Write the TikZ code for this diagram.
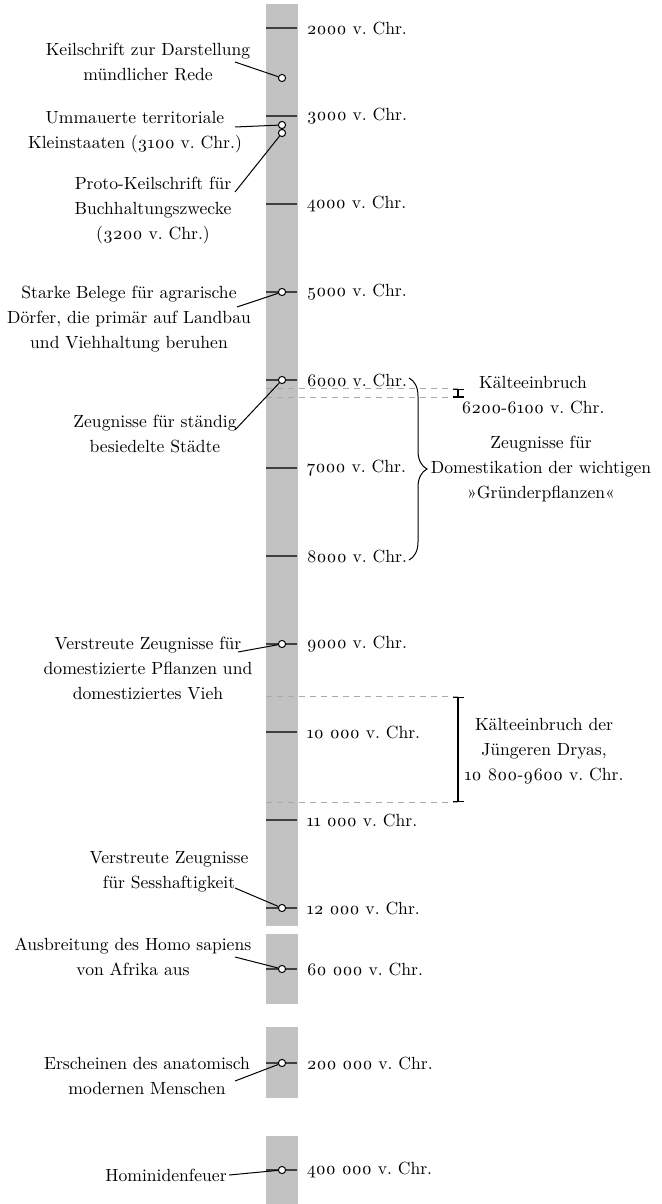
\documentclass[tikz,border=0pt]{standalone}
\usepackage{fontspec}
\setmainfont{lmroman10-regular.otf}[Numbers=OldStyle]
\usetikzlibrary{arrows.meta}
\usetikzlibrary{positioning}
\usetikzlibrary{decorations.pathreplacing}
\definecolor{bargray}{RGB}{194,194,194}
\definecolor{dashgray}{RGB}{170,170,170}
\tikzstyle{bar_fill} = [
    fill=bargray, 
    draw=none
]
\tikzstyle{tick_line} = [
    draw=black!75, 
    line width=0.8pt
]
\tikzstyle{year_label} = [
    anchor=west, 
    inner sep=0pt, 
    xshift=4.5pt % gap between tick and year
]
\tikzstyle{event_dot} = [
    circle, 
    draw=black, 
    fill=white, 
    line width=0.5pt, 
    inner sep=0pt, 
    minimum size=3.6pt
]
\tikzstyle{event_text} = [
    align=center, 
    inner sep=0pt
]
\tikzstyle{leader} = [
    draw=black, 
    line width=0.5pt
]
\tikzstyle{cold_line} = [
    draw=dashgray, 
    line width=0.5pt, 
    dash pattern=on 3pt off 2.5pt
]
\tikzstyle{span_bar} = [
    draw=black, 
    line width=0.6pt, 
    arrows={Bar[width=5.5pt]-Bar[width=5.5pt]}
]
\tikzstyle{brace_line} = [
    draw=black, 
    line width=0.5pt, 
    decorate, 
    decoration={brace, amplitude=9pt}
]

\begin{document}
\begin{tikzpicture}[
    x=0.5pt, y=-0.5pt, 
    font=\fontsize{8.8}{12.5}\selectfont
]
\useasboundingbox (0,0) rectangle (662,1204);

% time bar, broken below 12 000
\fill[bar_fill] (266,4) rectangle (298,926);
\fill[bar_fill] (266,934) rectangle (298,1004);
\fill[bar_fill] (266,1027) rectangle (298,1098);
\fill[bar_fill] (266,1136) rectangle (298,1204);

% cold periods
\coordinate (cold_top) at (458,388.8);
\coordinate (cold_bot) at (458,397.6);
\draw[cold_line] (266,388.8) -- (cold_top);
\draw[cold_line] (266,397.6) -- (cold_bot);
\draw[span_bar] (cold_top) -- (cold_bot);
\node[event_text] (cold) at (533,395.5) {Kälteeinbruch\\6200-6100 v.\ Chr.};

\coordinate (dryas_top) at (458,696.8);
\coordinate (dryas_bot) at (458,802.4);
\draw[cold_line] (266,696.8) -- (dryas_top);
\draw[cold_line] (266,802.4) -- (dryas_bot);
\draw[span_bar] (dryas_top) -- (dryas_bot);
\node[event_text] (dryas) at (544,751) {Kälteeinbruch der\\Jüngeren Dryas,\\10~800-9600 v.\ Chr.};

% ticks and years
\draw[tick_line] (266,28) -- (297,28) node[year_label] (y2000) {2000 v.\ Chr.};
\draw[tick_line] (266,116) -- (297,116) node[year_label] (y3000) {3000 v.\ Chr.};
\draw[tick_line] (266,204) -- (297,204) node[year_label] (y4000) {4000 v.\ Chr.};
\draw[tick_line] (266,292) -- (297,292) node[year_label] (y5000) {5000 v.\ Chr.};
\draw[tick_line] (266,380) -- (297,380) node[year_label] (y6000) {6000 v.\ Chr.};
\draw[tick_line] (266,468) -- (297,468) node[year_label] (y7000) {7000 v.\ Chr.};
\draw[tick_line] (266,556) -- (297,556) node[year_label] (y8000) {8000 v.\ Chr.};
\draw[tick_line] (266,644) -- (297,644) node[year_label] (y9000) {9000 v.\ Chr.};
\draw[tick_line] (266,732) -- (297,732) node[year_label] (y10k) {10~000 v.\ Chr.};
\draw[tick_line] (266,820) -- (297,820) node[year_label] (y11k) {11~000 v.\ Chr.};
\draw[tick_line] (266,908) -- (297,908) node[year_label] (y12k) {12~000 v.\ Chr.};
\draw[tick_line] (266,969) -- (297,969) node[year_label] (y60k) {60~000 v.\ Chr.};
\draw[tick_line] (266,1063) -- (297,1063) node[year_label] (y200k) {200~000 v.\ Chr.};
\draw[tick_line] (266,1170) -- (297,1170) node[year_label] (y400k) {400~000 v.\ Chr.};

% founder crops
\draw[brace_line] (409,378) -- (409,560);
\node[event_text] (founders) at (541,469) {Zeugnisse für\\Domestikation der wichtigen\\»Gründerpflanzen«};

% events
\node[event_dot] (d2600) at (282,78) {};
\node[event_dot] (d3100) at (282,125) {};
\node[event_dot] (d3200) at (282,133) {};
\node[event_dot] (d5000) at (282,292) {};
\node[event_dot] (d6000) at (282,380) {};
\node[event_dot] (d9000) at (282,644) {};
\node[event_dot] (d12k) at (282,908) {};
\node[event_dot] (d60k) at (282,969) {};
\node[event_dot] (d200k) at (282,1063) {};
\node[event_dot] (d400k) at (282,1170) {};

\node[event_text] (keil) at (148,62) {Keilschrift zur Darstellung\\mündlicher Rede};
\node[event_text] (walls) at (135,132) {Ummauerte territoriale\\Kleinstaaten (3100 v.\ Chr.)};
\node[event_text] (proto) at (153,210) {Proto-Keilschrift für\\Buchhaltungszwecke\\(3200 v.\ Chr.)};
\node[event_text] (villages) at (129,319) {Starke Belege für agrarische\\Dörfer, die primär auf Landbau\\und Viehhaltung beruhen};
\node[event_text] (towns) at (155,434) {Zeugnisse für ständig\\besiedelte Städte};
\node[event_text] (plants) at (148,668) {Verstreute Zeugnisse für\\domestizierte Pflanzen und\\domestiziertes Vieh};
\node[event_text] (settled) at (169,872) {Verstreute Zeugnisse\\für Sesshaftigkeit};
\node[event_text] (sapiens) at (133,957) {Ausbreitung des Homo sapiens\\von Afrika aus};
\node[event_text] (modern) at (147,1076) {Erscheinen des anatomisch\\modernen Menschen};
\node[event_text] (fire) at (166,1175) {Hominidenfeuer};

\coordinate (keil_tail) at (235,62);
\coordinate (walls_tail) at (235,127);
\coordinate (proto_tail) at (235,192);
\coordinate (villages_tail) at (237,307);
\coordinate (towns_tail) at (235,430);
\coordinate (plants_tail) at (238,652);
\coordinate (settled_tail) at (235,888);
\coordinate (sapiens_tail) at (235,957);
\coordinate (modern_tail) at (235,1081);

\draw[leader] (keil_tail) -- (d2600);
\draw[leader] (walls_tail) -- (d3100);
\draw[leader] (proto_tail) -- (d3200);
\draw[leader] (villages_tail) -- (d5000);
\draw[leader] (towns_tail) -- (d6000);
\draw[leader] (plants_tail) -- (d9000);
\draw[leader] (settled_tail) -- (d12k);
\draw[leader] (sapiens_tail) -- (d60k);
\draw[leader] (modern_tail) -- (d200k);
\draw[leader] ([xshift=1pt]fire.east) -- (d400k);
\end{tikzpicture}
\end{document}
